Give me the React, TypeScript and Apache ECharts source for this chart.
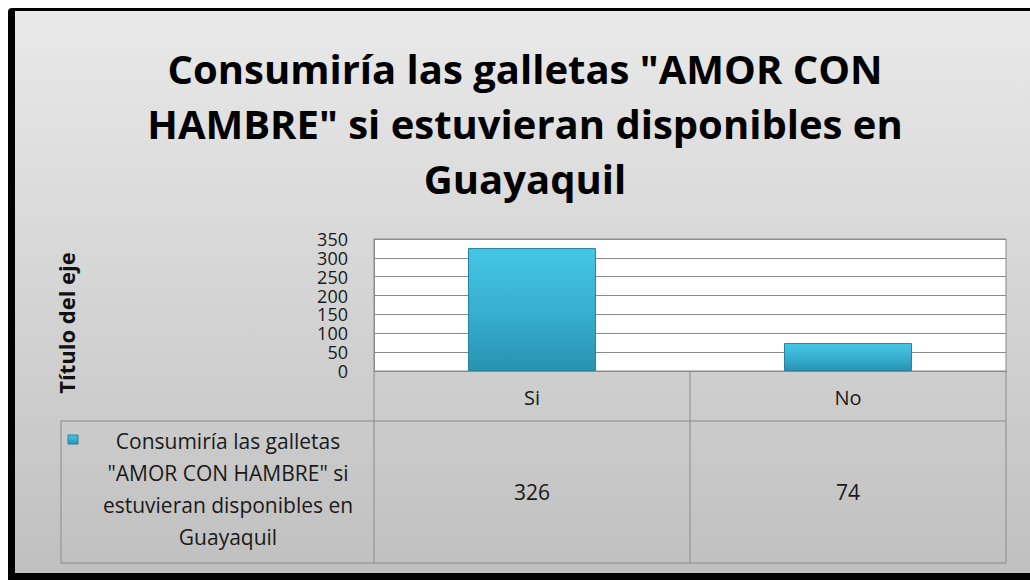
import React, { useEffect, useRef } from "react";
import * as echarts from "echarts";

const titleLines = ['Consumiría las galletas "AMOR CON', 'HAMBRE" si estuvieran disponibles en', "Guayaquil"];
const categories = ["Si", "No"];
const values = [326, 74];
const seriesLegendLines = ["Consumiría las galletas", '"AMOR CON HAMBRE" si', "estuvieran disponibles en", "Guayaquil"];
const seriesName = 'Consumiría las galletas "AMOR CON HAMBRE" si estuvieran disponibles en Guayaquil';
const axisTitle = "Título del eje";
const yMin = 0;
const yMax = 350;
const yStep = 50;

const FONT = "'Open Sans', sans-serif";
const W = 1030;
const H = 580;
const GRID = { left: 374, top: 239, right: 24, bottom: 209 };

export default function App() {
  const ref = useRef<HTMLDivElement>(null);

  useEffect(() => {
    if (!ref.current) return;
    const chart = echarts.init(ref.current, undefined, { renderer: "svg" });
    const barGrad = new echarts.graphic.LinearGradient(0, 0, 0, 1, [
      { offset: 0, color: "#46c6e6" },
      { offset: 0.5, color: "#37b0d2" },
      { offset: 1, color: "#2893b1" },
    ]);
    chart.setOption({
      animation: false,
      backgroundColor: "#ffffff",
      grid: { ...GRID, containLabel: false, show: true, backgroundColor: "#ffffff", borderColor: "#8a8a8a", borderWidth: 1 },
      xAxis: {
        type: "category",
        data: categories,
        axisLine: { show: true, lineStyle: { color: "#8a8a8a" } },
        axisTick: { show: false },
        axisLabel: { margin: 16, fontSize: 20, color: "#1a1a1a", fontFamily: FONT },
      },
      yAxis: {
        type: "value",
        min: yMin,
        max: yMax,
        interval: yStep,
        axisLine: { show: true, lineStyle: { color: "#8a8a8a" } },
        axisTick: { show: false },
        splitLine: { lineStyle: { color: "#8a8a8a", width: 1 } },
        axisLabel: {
          margin: 26,
          fontSize: 18,
          lineHeight: 18,
          color: "#1a1a1a",
          fontFamily: FONT,
          showMinLabel: true,
          showMaxLabel: true,
          hideOverlap: false,
        },
      },
      series: [
        {
          type: "bar",
          name: seriesName,
          data: values,
          barWidth: "40.5%",
          itemStyle: { color: barGrad, borderColor: "#27839e", borderWidth: 1 },
        },
      ],
    });

    const bottomAxisY = H - GRID.bottom;
    const headerBottom = 421;
    const tableBottom = 563;
    const tableLeft = 61;
    const plotRight = W - GRID.right;
    const colW = (plotRight - GRID.left) / categories.length;

    const graphics: any[] = [];
    graphics.push({ type: "rect", z: -10, shape: { x: 8, y: 8, width: W - 8, height: H - 8, r: [4, 0, 0, 0] }, style: { fill: "#000000" }, silent: true });
    graphics.push({
      type: "rect",
      z: -9,
      shape: { x: 15, y: 11, width: W - 15, height: 562 },
      style: {
        fill: new echarts.graphic.LinearGradient(0, 0, 0, 1, [
          { offset: 0, color: "#e9e9e9" },
          { offset: 1, color: "#c0c0c0" },
        ]),
      },
      silent: true,
    });
    graphics.push({
      type: "text",
      x: 525,
      y: 41,
      style: {
        text: titleLines.join("\n"),
        align: "center",
        verticalAlign: "top",
        fontSize: 40,
        lineHeight: 55,
        fontWeight: "bold",
        fontFamily: FONT,
        fill: "#000000",
      },
    });
    graphics.push({
      type: "text",
      x: 66,
      y: 323,
      rotation: Math.PI / 2,
      style: { text: axisTitle, align: "center", verticalAlign: "middle", fontSize: 22, fontWeight: "bold", fontFamily: FONT, fill: "#111111" },
    });
    const ls = { stroke: "#8a8a8a", lineWidth: 1 };
    graphics.push({ type: "line", shape: { x1: GRID.left, y1: bottomAxisY, x2: GRID.left, y2: tableBottom }, style: ls });
    graphics.push({ type: "line", shape: { x1: plotRight, y1: bottomAxisY, x2: plotRight, y2: tableBottom }, style: ls });
    for (let i = 1; i < categories.length; i++) {
      const x = GRID.left + colW * i;
      graphics.push({ type: "line", shape: { x1: x, y1: bottomAxisY, x2: x, y2: tableBottom }, style: ls });
    }
    graphics.push({ type: "line", shape: { x1: tableLeft, y1: headerBottom, x2: plotRight, y2: headerBottom }, style: ls });
    graphics.push({ type: "line", shape: { x1: tableLeft, y1: tableBottom, x2: plotRight, y2: tableBottom }, style: ls });
    graphics.push({ type: "line", shape: { x1: tableLeft, y1: headerBottom, x2: tableLeft, y2: tableBottom }, style: ls });
    graphics.push({ type: "rect", shape: { x: 68, y: 435, width: 10, height: 9 }, style: { fill: barGrad, stroke: "#27839e", lineWidth: 1 } });
    graphics.push({
      type: "text",
      x: 228,
      y: 425,
      style: {
        text: seriesLegendLines.join("\n"),
        align: "center",
        verticalAlign: "top",
        fontSize: 21,
        lineHeight: 32,
        fontFamily: FONT,
        fill: "#1a1a1a",
      },
    });
    categories.forEach((c, i) => {
      const px = chart.convertToPixel({ xAxisIndex: 0 }, c) as number;
      graphics.push({
        type: "text",
        x: px,
        y: (headerBottom + tableBottom) / 2,
        style: { text: String(values[i]), align: "center", verticalAlign: "middle", fontSize: 21, fontFamily: FONT, fill: "#1a1a1a" },
      });
    });
    chart.setOption({ graphic: graphics });

    return () => chart.dispose();
  }, []);

  return <div ref={ref} style={{ position: "absolute", left: 0, top: 0, width: W, height: H }} />;
}
